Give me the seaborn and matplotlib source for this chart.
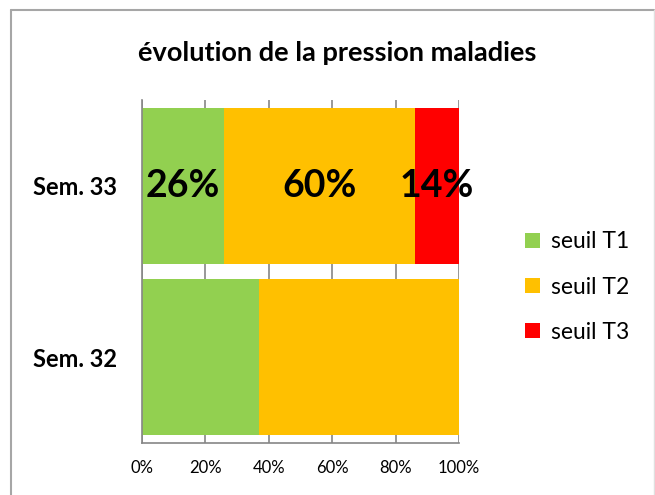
import matplotlib
matplotlib.use("Agg")
import matplotlib.pyplot as plt
import seaborn as sns
import pandas as pd
import numpy as np
from matplotlib.lines import Line2D
from matplotlib.patches import Patch

categories = ["Sem. 32", "Sem. 33"]
series_names = ["seuil T1", "seuil T2", "seuil T3"]
t1 = [37, 26]
t2 = [63, 60]
t3 = [0, 14]
label_cat = "Sem. 33"
colors = ["#92d050", "#ffc000", "#ff0000"]
xticks = [0, 20, 40, 60, 80, 100]
xticklabels = ["0%", "20%", "40%", "60%", "80%", "100%"]

sns.set_style("white")
plt.rcParams['font.family'] = ['Lato', 'DejaVu Sans']
plt.rcParams['text.color'] = 'black'
plt.rcParams['xtick.labelcolor'] = 'black'
plt.rcParams['ytick.labelcolor'] = 'black'

df = pd.DataFrame({"cat": categories, "seuil T1": t1, "seuil T2": t2, "seuil T3": t3})

fig = plt.figure(figsize=(6.55, 4.95), dpi=100)
ax = fig.add_axes([142/655, 1-443/495, (459-142)/655, (443-100)/495])

ypos = np.arange(len(categories))
left = np.zeros(len(categories))
for name, col in zip(series_names, colors):
    vals = df[name].to_numpy(dtype=float)
    ax.barh(ypos, vals, left=left, height=0.91, color=col, edgecolor="none", zorder=2, label=name)
    for i, c in enumerate(categories):
        if c == label_cat and vals[i] > 0:
            ax.text(left[i] + vals[i]/2, ypos[i], f"{int(vals[i])}%", ha="center", va="center",
                    fontsize=27, fontweight="bold", color="black", zorder=3)
    left += vals

ax.set_xlim(0, 100)
ax.set_ylim(-0.5, 1.5)
ax.set_xticks(xticks)
ax.set_xticklabels(xticklabels, fontsize=12, color="black")
ax.set_yticks(ypos)
ax.set_yticklabels(categories, fontsize=17, fontweight="bold", color="black")
ax.set_yticks([-0.5, 0.5, 1.5], minor=True)
ax.tick_params(axis="y", which="major", length=0, pad=18)
ax.tick_params(axis="y", which="minor", length=6, color="#868686", width=1.2, direction="out")
ax.tick_params(axis="x", which="major", length=6, color="#868686", width=1.2, direction="out", pad=6)
ax.grid(axis="x", color="#868686", linewidth=1.2, zorder=0)
ax.grid(axis="y", visible=False)
ax.set_axisbelow(True)
for s in ["top", "right"]:
    ax.spines[s].set_visible(False)
for s in ["left", "bottom"]:
    ax.spines[s].set_color("#868686")
    ax.spines[s].set_linewidth(1.2)
ax.set_xlabel("")
ax.set_ylabel("")

handles = [Patch(facecolor=c, edgecolor="none", label=n) for n, c in zip(series_names, colors)]
fig.legend(handles=handles, loc="center left", bbox_to_anchor=(518/655, 1-287/495),
           frameon=False, fontsize=16.5, handlelength=0.68, handleheight=0.68,
           labelspacing=1.05, handletextpad=0.45, borderaxespad=0, borderpad=0.3,
           labelcolor="black")

fig.text(0.5 * (133 + 541) / 655, 1 - 53/495, "évolution de la pression maladies",
         ha="center", va="center", fontsize=19.5, fontweight="bold", color="black")

# chart frame
fig.add_artist(Line2D([11/655, 11/655], [0, 1-10/495], color="#a6a6a6", lw=1.5, transform=fig.transFigure))
fig.add_artist(Line2D([11/655, 654/655], [1-10/495, 1-10/495], color="#a6a6a6", lw=1.5, transform=fig.transFigure))
fig.add_artist(Line2D([654/655, 654/655], [0, 1-10/495], color="#e0e0e0", lw=1.0, transform=fig.transFigure))

fig.savefig("out.png", dpi=100)
